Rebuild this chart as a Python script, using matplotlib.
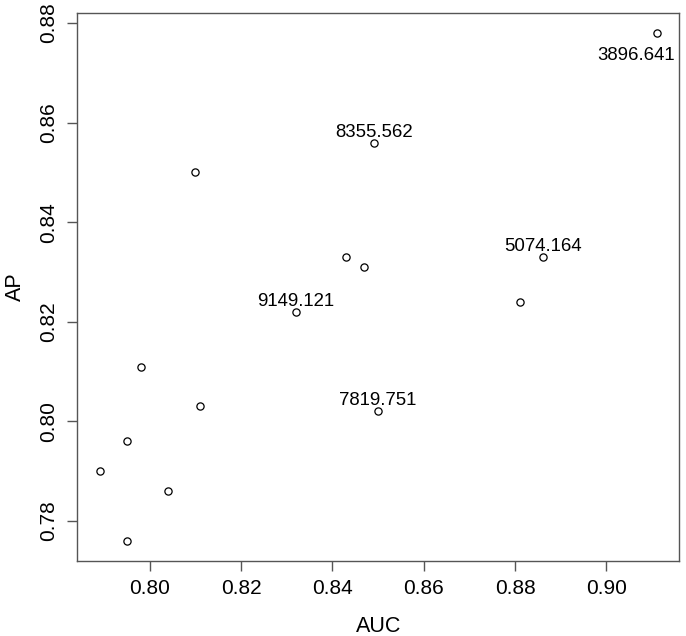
import matplotlib
matplotlib.use("Agg")
import matplotlib.pyplot as plt
import numpy as np

auc = [0.911, 0.849, 0.810, 0.843, 0.847, 0.886, 0.832, 0.881,
       0.798, 0.811, 0.850, 0.795, 0.789, 0.804, 0.795]
ap = [0.878, 0.856, 0.850, 0.833, 0.831, 0.833, 0.822, 0.824,
      0.811, 0.803, 0.802, 0.796, 0.790, 0.786, 0.776]
labels = ["3896.641", "8355.562", "", "", "", "5074.164", "9149.121", "",
          "", "", "7819.751", "", "", "", ""]

x_ticks = [0.80, 0.82, 0.84, 0.86, 0.88, 0.90]
y_ticks = [0.78, 0.80, 0.82, 0.84, 0.86, 0.88]

plt.rcParams["font.family"] = ["Liberation Sans", "DejaVu Sans"]
frame = "#555555"


def r_range(values):
    lo, hi = min(values), max(values)
    pad = 0.04 * (hi - lo)
    return lo - pad, hi + pad


fig = plt.figure(figsize=(6.86, 6.36), dpi=100)
ax = fig.add_axes([0.1127, 0.1179, 0.8771, 0.8621])

ax.plot(auc, ap, linestyle="none", marker="o", markersize=5.2,
        markerfacecolor="none", markeredgecolor="black", markeredgewidth=0.9)

top = max(ap)
for x, y, lab in zip(auc, ap, labels):
    if not lab:
        continue
    if y == top:
        # the top-right label sits below and left of its point
        off = (-14.8, -19.5)
    else:
        off = (0, 4.3)
    ax.annotate(lab, (x, y), xytext=off, textcoords="offset points",
                ha="center", va="baseline", fontsize=13.4)

ax.set_xlim(*r_range(auc))
ax.set_ylim(*r_range(ap))
ax.set_xticks(x_ticks)
ax.set_yticks(y_ticks)
ax.set_xticklabels([f"{t:.2f}" for t in x_ticks])
ax.set_yticklabels([f"{t:.2f}" for t in y_ticks], rotation=90, va="center")

for s in ax.spines.values():
    s.set_color(frame)
    s.set_linewidth(1.0)
ax.tick_params(length=7, width=1.0, color=frame, labelsize=15, pad=6)
ax.tick_params(axis="y", pad=7)

ax.set_xlabel("AUC", fontsize=15.5, labelpad=13)
ax.set_ylabel("AP", fontsize=15.5, labelpad=9)

fig.savefig("out.png", dpi=100)
